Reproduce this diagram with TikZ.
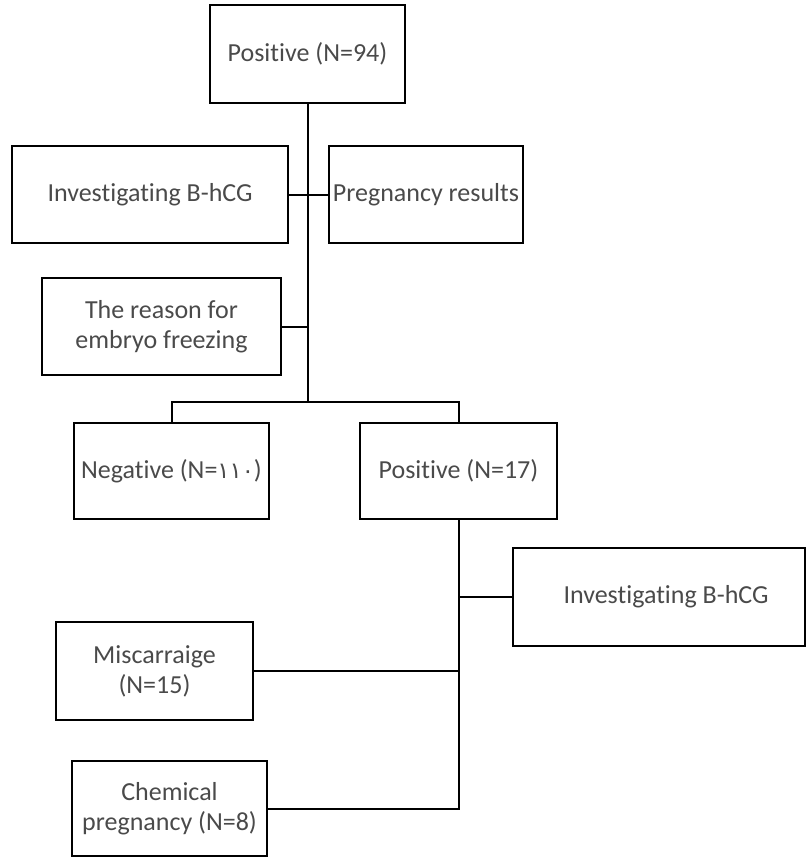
\documentclass[tikz,border=0pt]{standalone}
\usepackage{fontspec}
\setmainfont{Carlito}[Ligatures={NoCommon}]
\newfontfamily\arabicfont[Script=Arabic]{DejaVu Sans}
\definecolor{txt}{HTML}{4A4A4A}
\begin{document}
\begin{tikzpicture}[x=0.75pt,y=-0.75pt,
  box/.style={draw=black,line width=1.6pt,rectangle,inner sep=0pt,align=center,
    text=txt,font=\fontsize{19.5}{22.5}\selectfont},
  conn/.style={draw=black,line width=1.5pt}]
\useasboundingbox (0,0) rectangle (806,858);
\node[box,minimum width=146.25pt,minimum height=73.5pt] (b1) at (307.5,54) {Positive (N=94)};
\node[box,minimum width=207pt,minimum height=72.75pt] (b2) at (150,194.5) {Investigating B-hCG};
\node[box,minimum width=145.5pt,minimum height=72.75pt] (b3) at (426,194.5) {Pregnancy results};
\node[box,minimum width=179.25pt,minimum height=72.75pt] (b4) at (161.5,326.5) {The reason for\\embryo freezing};
\node[box,minimum width=146.25pt,minimum height=72pt] (b5) at (171.5,471) {Negative (N={\arabicfont\fontsize{17}{20}\selectfont ١١٠})};
\node[box,minimum width=147.75pt,minimum height=72pt] (b6) at (458.5,471) {Positive (N=17)};
\node[box,minimum width=219pt,minimum height=73.5pt] (b7) at (659,597) {\hspace*{10.5pt}Investigating B-hCG};
\node[box,minimum width=147.75pt,minimum height=73.5pt] (b8) at (154.5,671) {Miscarraige\\(N=15)};
\node[box,minimum width=146.25pt,minimum height=71.25pt] (b9) at (169.5,808.5) {Chemical\\pregnancy (N=8)};
\coordinate (j1) at (308,402);
\draw[conn] (b1.south) -- (b1.south |- j1);
\draw[conn] (b2.east) -- (b3.west);
\draw[conn] (b4.east) -- (b4.east -| b1.south);
\draw[conn] (b5.north) |- (j1) -| (b6.north);
\draw[conn] (b6.south) |- (b9.east);
\draw[conn] (b8.east) -- (b8.east -| b6.south);
\draw[conn] (b7.west) -- (b7.west -| b6.south);
\end{tikzpicture}
\end{document}
